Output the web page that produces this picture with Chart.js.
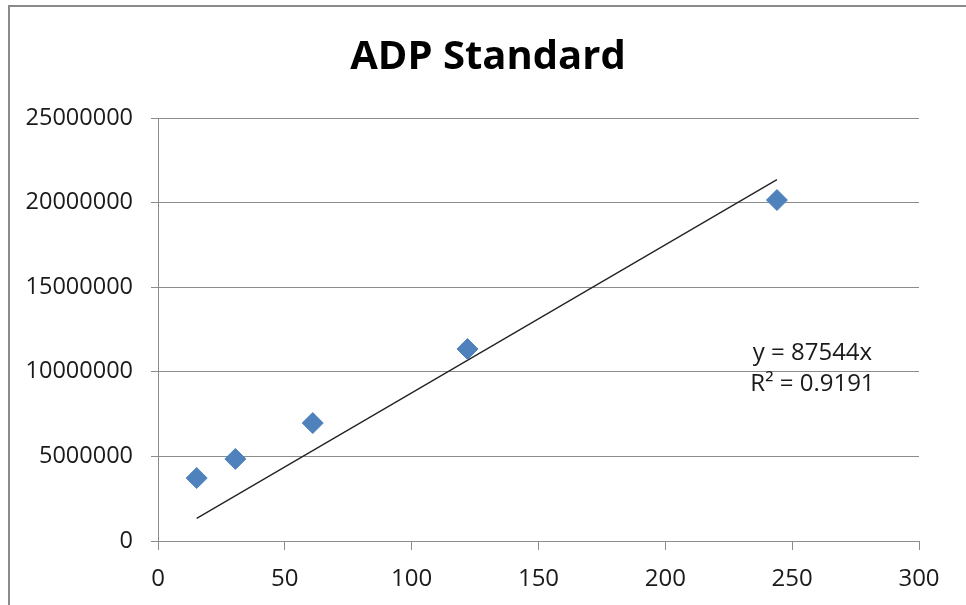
<!DOCTYPE html>
<html>
<head>
<meta charset="utf-8">
<script src="https://cdn.jsdelivr.net/npm/chart.js@4/dist/chart.umd.min.js"></script>
<style>
  html, body { margin: 0; padding: 0; background: #fff; }
  #wrap { width: 966px; height: 605px; position: relative; }
</style>
</head>
<body>
<div id="wrap"><canvas id="c" width="966" height="605"></canvas></div>
<script>
const chartTitle = "ADP Standard";
const xValues = [15.25, 30.5, 61, 122, 244];
const yValues = [3720000, 4850000, 6970000, 11350000, 20150000];
const trendSlope = 87544;
const trendX = [15.25, 244];
const equationLines = ["y = 87544x", "R² = 0.9191"];
const xTicks = [0, 50, 100, 150, 200, 250, 300];
const yTicks = [0, 5000000, 10000000, 15000000, 20000000, 25000000];

const FONT = "'Open Sans', 'Noto Sans', sans-serif";
const GRID = '#8c8c8c';

const framePlugin = {
  id: 'frame',
  afterDraw(chart) {
    const ctx = chart.ctx;
    ctx.save();
    ctx.strokeStyle = '#8a8a8a';
    ctx.lineWidth = 2;
    ctx.strokeRect(9, 6, 1100, 800);
    ctx.fillStyle = '#000';
    ctx.font = "bold 40px " + FONT;
    ctx.textAlign = 'center';
    ctx.textBaseline = 'middle';
    ctx.fillText(chartTitle, 488, 58);
    ctx.restore();
  }
};

const equationPlugin = {
  id: 'equation',
  afterDatasetsDraw(chart) {
    const ctx = chart.ctx;
    const xs = chart.scales.x, ys = chart.scales.y;
    const cx = xs.getPixelForValue(258);
    const y1 = ys.getPixelForValue(11100000);
    ctx.save();
    ctx.fillStyle = '#1a1a1a';
    ctx.font = "24px " + FONT;
    ctx.textAlign = 'center';
    ctx.textBaseline = 'middle';
    ctx.fillText(equationLines[0], cx, y1);
    ctx.fillText(equationLines[1], cx, y1 + 31);
    ctx.restore();
  }
};

new Chart(document.getElementById('c'), {
  type: 'scatter',
  data: {
    datasets: [
      {
        label: 'ADP',
        data: xValues.map((x, i) => ({ x: x, y: yValues[i] })),
        pointStyle: 'rectRot',
        pointRadius: 10.5,
        pointHoverRadius: 10.5,
        backgroundColor: '#4F81BD',
        borderColor: '#4F81BD',
        borderWidth: 1,
        order: 1
      },
      {
        label: 'Trend',
        type: 'line',
        data: trendX.map(x => ({ x: x, y: trendSlope * x })),
        borderColor: '#222222',
        borderWidth: 1.3,
        pointRadius: 0,
        fill: false,
        order: 2
      }
    ]
  },
  options: {
    responsive: false,
    animation: false,
    layout: { padding: { left: 0, right: 47, top: 118, bottom: 0 } },
    plugins: {
      legend: { display: false },
      tooltip: { enabled: false },
      title: { display: false }
    },
    scales: {
      x: {
        type: 'linear',
        min: 0, max: 300,
        afterBuildTicks(s) { s.ticks = xTicks.map(v => ({ value: v })); },
        afterFit(s) { s.height = 605 - 541; },
        border: { display: true, color: GRID, width: 1 },
        grid: { display: true, drawOnChartArea: false, drawTicks: true, tickLength: 9, color: GRID },
        ticks: { color: '#1a1a1a', font: { family: FONT, size: 24 }, padding: 15, maxRotation: 0 }
      },
      y: {
        type: 'linear',
        min: 0, max: 25000000,
        afterBuildTicks(s) { s.ticks = yTicks.map(v => ({ value: v })); },
        afterFit(s) { s.width = 158; },
        border: { display: true, color: GRID, width: 1 },
        grid: { display: true, drawOnChartArea: true, drawTicks: true, tickLength: 7, color: GRID },
        ticks: { color: '#1a1a1a', font: { family: FONT, size: 23.5 }, padding: 18, callback: v => String(v) }
      }
    }
  },
  plugins: [framePlugin, equationPlugin]
});
</script>
</body>
</html>
